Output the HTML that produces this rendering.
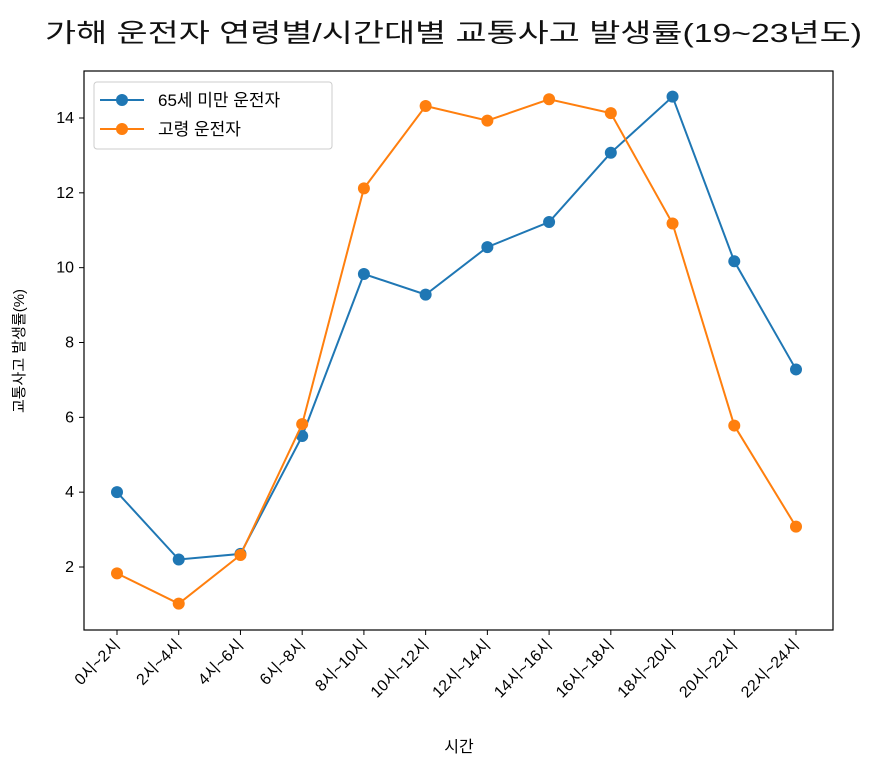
<!DOCTYPE html>
<html><head><meta charset="utf-8"><style>
body{margin:0;background:#fff}
svg{font-family:"Liberation Sans","Noto Sans CJK KR",sans-serif}
</style></head><body>
<svg id="c" width="885" height="774" xmlns="http://www.w3.org/2000/svg">
<text x="45" y="42" font-size="26" textLength="817" lengthAdjust="spacingAndGlyphs" fill="#111">가해 운전자 연령별/시간대별 교통사고 발생률(19~23년도)</text>
<rect x="84" y="71" width="749" height="559" fill="none" stroke="#000" stroke-width="1.2"/>
<g id="ax"></g>
<g id="marks"></g>
<text x="459" y="752" font-size="16" text-anchor="middle">시간</text>
<text transform="translate(24,351) rotate(-90)" font-size="15" text-anchor="middle">교통사고 발생률(%)</text>
<g>
<rect x="94" y="82" width="238" height="67" rx="3" fill="#fff" stroke="#ccc"/>
<g><line x1="100" y1="100" x2="144" y2="100" stroke="#1f77b4" stroke-width="2"/><circle cx="122" cy="100" r="6" fill="#1f77b4"/><text x="158" y="106" font-size="17">65세 미만 운전자</text></g>
<g><line x1="100" y1="129" x2="144" y2="129" stroke="#ff7f0e" stroke-width="2"/><circle cx="122" cy="129" r="6" fill="#ff7f0e"/><text x="158" y="135" font-size="17">고령 운전자</text></g>
</g>
</svg>
<script>
const categories=["0시~2시","2시~4시","4시~6시","6시~8시","8시~10시","10시~12시","12시~14시","14시~16시","16시~18시","18시~20시","20시~22시","22시~24시"];
const under65=[4.0,2.2,2.35,5.5,9.83,9.28,10.55,11.22,13.07,14.57,10.17,7.28];
const elderly=[1.83,1.02,2.32,5.82,12.12,14.32,13.93,14.5,14.13,11.18,5.78,3.08];
const yTicks=[2,4,6,8,10,12,14];
const NS="http://www.w3.org/2000/svg";
const xs=i=>117+i*(796-117)/(categories.length-1);
const ys=v=>567-(v-2)*(567-118)/12;
const ax=document.getElementById('ax'),mk=document.getElementById('marks');
function el(t,a,p){const e=document.createElementNS(NS,t);for(const k in a)e.setAttribute(k,a[k]);p.appendChild(e);return e;}
yTicks.forEach(v=>{
 const l=el('line',{x1:79,x2:84,y1:ys(v),y2:ys(v),stroke:'#000'},ax);
 
 
 const t=el('text',{x:74,y:ys(v)+5,'font-size':16,'text-anchor':'end'},ax);t.textContent=v;
 
 
});
categories.forEach((c,i)=>{
 const l=el('line',{x1:xs(i),x2:xs(i),y1:630,y2:635,stroke:'#000'},ax);
 
 
 const t=el('text',{x:xs(i)+4,y:646,'font-size':16,'text-anchor':'end',transform:`rotate(-45 ${xs(i)+4} 646)`},ax);t.textContent=c;
 
 
});
function series(d,col,name){
 const p=el('polyline',{points:d.map((v,i)=>xs(i)+','+ys(v)).join(' '),fill:'none',stroke:col,'stroke-width':2},mk);
 
 
 d.forEach((v,i)=>{const c=el('circle',{cx:xs(i),cy:ys(v),r:6,fill:col},mk);
 
 });
}
series(under65,'#1f77b4','under65');
series(elderly,'#ff7f0e','elderly');
</script>
</body></html>
